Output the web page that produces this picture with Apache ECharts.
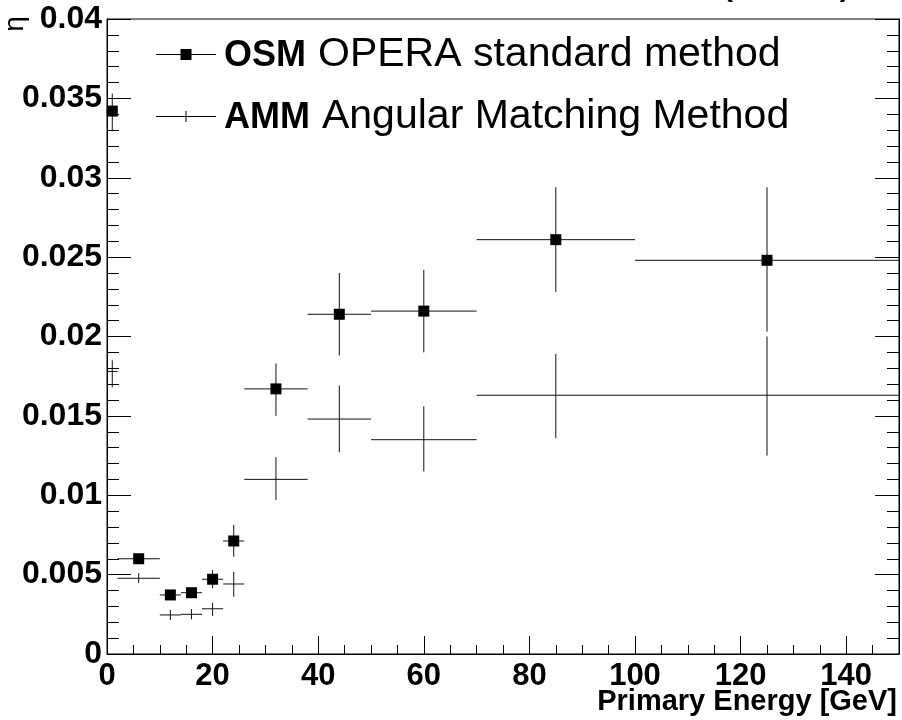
<!DOCTYPE html>
<html>
<head>
<meta charset="utf-8">
<script src="https://cdn.jsdelivr.net/npm/echarts@6/dist/echarts.min.js"></script>
<style>
  html, body { margin: 0; padding: 0; background: #fff; }
  #chart { width: 902px; height: 720px; }
</style>
</head>
<body>
<div id="chart"></div>
<script>
// energy bins [GeV]
const energy = [1, 6, 12, 16, 20, 24, 32, 44, 60, 85, 125]
const binLow = [0, 2, 10, 14, 18, 22, 26, 38, 50, 70, 100]
const binHigh = [2, 10, 14, 18, 22, 26, 38, 50, 70, 100, 150]

// OPERA standard method
const osmEta = [0.0342, 0.0060, 0.00372, 0.00386, 0.00471, 0.00712, 0.0167, 0.0214, 0.0216, 0.0261, 0.0248]
const osmLow = [0.0330, 0.0058, 0.0035, 0.0036, 0.00414, 0.00613, 0.0150, 0.0188, 0.0190, 0.0228, 0.0203]
const osmHigh = [0.0353, 0.0062, 0.0039, 0.0041, 0.00529, 0.00813, 0.0183, 0.0240, 0.0242, 0.0294, 0.0294]

// Angular Matching Method
const ammEta = [0.0178, 0.00477, 0.00246, 0.0025, 0.00285, 0.00441, 0.0110, 0.0148, 0.0135, 0.0163, 0.0163]
const ammLow = [0.0168, 0.00447, 0.00214, 0.00219, 0.00239, 0.00361, 0.0097, 0.0127, 0.0115, 0.0136, 0.0125]
const ammHigh = [0.0185, 0.0051, 0.00277, 0.00282, 0.00323, 0.00518, 0.0124, 0.0169, 0.0156, 0.0189, 0.0200]

const xTicks = [0, 20, 40, 60, 80, 100, 120, 140]

const font = '"Liberation Sans", Arial, Helvetica, sans-serif'

function rows (eta, low, high) {
  return energy.map((e, i) => [e, eta[i], binLow[i], binHigh[i], low[i], high[i]])
}

function errorBars (withSquare) {
  return function (params, api) {
    const c = api.coord([api.value(0), api.value(1)])
    const l = api.coord([api.value(2), api.value(1)])
    const r = api.coord([api.value(3), api.value(1)])
    const lo = api.coord([api.value(0), api.value(4)])
    const hi = api.coord([api.value(0), api.value(5)])
    const line = { stroke: '#111', lineWidth: 1 }
    const children = [
      { type: 'line', shape: { x1: l[0], y1: c[1], x2: r[0], y2: c[1] }, style: line },
      { type: 'line', shape: { x1: c[0], y1: hi[1], x2: c[0], y2: lo[1] }, style: line }
    ]
    if (withSquare) {
      children.push({ type: 'rect', shape: { x: c[0] - 5.5, y: c[1] - 5.5, width: 11, height: 11 }, style: { fill: '#000' } })
    }
    return { type: 'group', children }
  }
}

const yAxisBase = {
  type: 'value',
  min: 0,
  max: 0.04,
  interval: 0.005,
  axisLine: { show: true, lineStyle: { color: '#000', width: 1 } },
  axisTick: { show: true, inside: true, length: 24, lineStyle: { color: '#000' } },
  minorTick: { show: true, splitNumber: 5, length: 12, lineStyle: { color: '#000' } },
  splitLine: { show: false }
}

const chart = echarts.init(document.getElementById('chart'))

chart.setOption({
  backgroundColor: '#fff',
  animation: false,
  grid: {
    left: 107,
    right: 3,
    top: 19,
    bottom: 66,
    show: true,
    borderColor: '#000',
    borderWidth: 1
  },
  legend: {
    orient: 'vertical',
    left: 151,
    top: 29,
    itemWidth: 60,
    itemHeight: 11,
    itemGap: 21,
    selectedMode: false,
    data: [
      { name: 'OSM', icon: 'path://M0,5H60V6H0Z M24.5,0H35.5V11H24.5Z' },
      { name: 'AMM', icon: 'path://M0,5H60V6H0Z M29.5,0H30.5V11H29.5Z' }
    ],
    formatter: function (name) {
      const desc = name === 'OSM' ? 'OPERA standard method' : 'Angular Matching Method'
      return '{b|' + name + '}{n|' + desc + '}'
    },
    textStyle: {
      lineHeight: 40,
      rich: {
        b: { fontFamily: font, fontWeight: 'bold', fontSize: 36, color: '#000', padding: [4, 0, 0, 3] },
        n: { fontFamily: font, fontSize: 41, color: '#000', padding: [0, 0, 0, 12] }
      }
    }
  },
  xAxis: {
    type: 'value',
    min: 0,
    max: 150,
    interval: 20,
    axisLine: { show: true, onZero: false, lineStyle: { color: '#000', width: 1 } },
    axisTick: { show: true, inside: true, length: 18, lineStyle: { color: '#000' } },
    minorTick: { show: true, splitNumber: 4, length: 9, lineStyle: { color: '#000' } },
    splitLine: { show: false },
    axisLabel: {
      margin: 7,
      fontFamily: font,
      fontWeight: 'bold',
      fontSize: 31,
      color: '#000',
      showMaxLabel: false,
      formatter: v => (xTicks.indexOf(v) >= 0 ? String(v) : '')
    }
  },
  yAxis: [
    Object.assign({}, yAxisBase, {
      position: 'left',
      axisLabel: {
        margin: 5,
        fontFamily: font,
        fontWeight: 'bold',
        fontSize: 32,
        color: '#000'
      }
    }),
    Object.assign({}, yAxisBase, {
      position: 'right',
      axisLabel: { show: false }
    })
  ],
  graphic: [
    {
      type: 'text',
      x: 897,
      y: 702,
      style: {
        text: 'Primary Energy [GeV]',
        font: 'bold 29px ' + font,
        fill: '#000',
        textAlign: 'right',
        textVerticalAlign: 'middle'
      }
    },
    {
      type: 'text',
      x: 15,
      y: 24,
      rotation: Math.PI / 2,
      style: {
        text: 'η',
        font: '28px ' + font,
        fill: '#000',
        textAlign: 'center',
        textVerticalAlign: 'middle'
      }
    },
    {
      type: 'text',
      x: 723,
      y: -12,
      style: {
        text: '(OPERA)',
        font: 'bold 30px ' + font,
        fill: '#000',
        textAlign: 'left',
        textVerticalAlign: 'middle'
      }
    }
  ],
  series: [
    {
      name: 'OSM',
      type: 'custom',
      yAxisIndex: 0,
      itemStyle: { color: '#000' },
      renderItem: errorBars(true),
      encode: { x: 0, y: 1 },
      data: rows(osmEta, osmLow, osmHigh),
      z: 3
    },
    {
      name: 'AMM',
      type: 'custom',
      yAxisIndex: 0,
      itemStyle: { color: '#000' },
      renderItem: errorBars(false),
      encode: { x: 0, y: 1 },
      data: rows(ammEta, ammLow, ammHigh),
      z: 2
    }
  ]
})
</script>
</body>
</html>
